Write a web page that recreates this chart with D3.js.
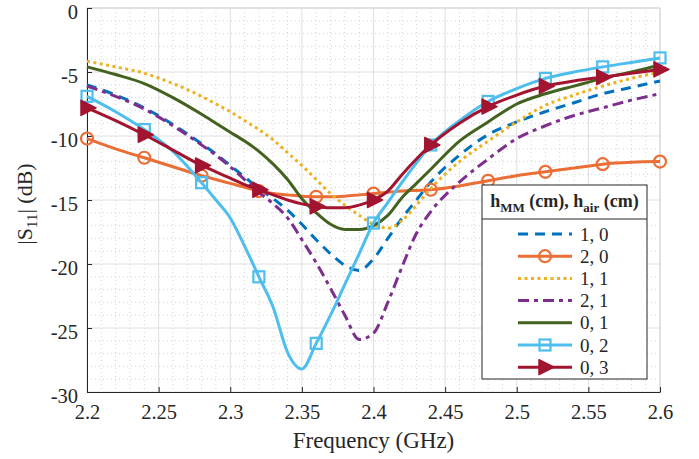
<!DOCTYPE html>
<html>
<head>
<meta charset="utf-8">
<script src="https://cdn.jsdelivr.net/npm/d3@7"></script>
<style>
  html, body { margin: 0; padding: 0; background: #fff; }
  svg { display: block; }
  text { font-family: "Liberation Serif", "DejaVu Serif", serif; fill: #262626; }
</style>
</head>
<body>
<svg id="chart" width="699" height="459"></svg>
<script>
// ---- Data ----
const freq = [2.20, 2.22, 2.24, 2.26, 2.28, 2.29, 2.30, 2.31, 2.32, 2.33, 2.34, 2.35, 2.36, 2.37, 2.38, 2.39, 2.40, 2.41, 2.42, 2.43, 2.44, 2.46, 2.48, 2.50, 2.52, 2.54, 2.56, 2.58, 2.60];

const s_1_0 = [-6.0, -6.8, -7.8, -9.1, -10.6, -11.4, -12.3, -13.2, -14.1, -14.9, -15.8, -16.9, -18.1, -19.2, -20.1, -20.5, -19.6, -18.0, -16.4, -15.0, -13.6, -11.5, -9.9, -8.9, -8.1, -7.4, -6.7, -6.2, -5.7];
const s_2_0 = [-10.2, -11.0, -11.7, -12.4, -13.1, -13.4, -13.7, -14.0, -14.3, -14.5, -14.6, -14.7, -14.75, -14.75, -14.7, -14.6, -14.5, -14.4, -14.3, -14.25, -14.2, -13.9, -13.5, -13.1, -12.8, -12.5, -12.2, -12.05, -12.0];
const s_1_1 = [-4.15, -4.6, -5.1, -5.9, -6.9, -7.5, -8.1, -8.8, -9.5, -10.3, -11.3, -12.3, -13.4, -14.5, -15.4, -16.2, -16.9, -17.2, -16.6, -15.4, -14.1, -12.0, -10.4, -8.9, -7.6, -6.8, -6.1, -5.5, -5.0];
const s_2_1 = [-6.1, -6.9, -7.9, -9.2, -10.7, -11.5, -12.4, -13.4, -14.4, -15.3, -16.4, -18.1, -19.9, -21.9, -24.0, -25.9, -25.4, -23.0, -20.2, -17.6, -15.9, -13.6, -11.8, -10.2, -9.2, -8.4, -7.8, -7.2, -6.7];
const s_0_1 = [-4.6, -5.2, -5.9, -7.0, -8.3, -9.0, -9.7, -10.4, -11.2, -12.2, -13.4, -14.9, -16.0, -16.9, -17.3, -17.3, -17.0, -16.2, -14.8, -13.7, -12.6, -10.4, -8.9, -7.5, -6.7, -6.1, -5.5, -5.0, -4.45];
const s_0_2 = [-6.9, -8.1, -9.5, -11.2, -13.65, -15.0, -16.4, -18.6, -21.0, -23.4, -26.9, -28.2, -26.2, -24.0, -21.6, -19.2, -16.8, -15.2, -13.6, -12.1, -10.7, -8.8, -7.3, -6.3, -5.5, -5.0, -4.6, -4.25, -3.9];
const s_0_3 = [-7.8, -8.8, -9.9, -11.1, -12.3, -12.8, -13.3, -13.8, -14.2, -14.6, -15.0, -15.3, -15.5, -15.6, -15.6, -15.4, -15.0, -14.3, -13.0, -11.8, -10.7, -9.0, -7.7, -6.8, -6.1, -5.7, -5.4, -5.1, -4.8];

const markerFreqs = [2.20, 2.24, 2.28, 2.32, 2.36, 2.40, 2.44, 2.48, 2.52, 2.56, 2.60];
const xTicks = [2.2, 2.25, 2.3, 2.35, 2.4, 2.45, 2.5, 2.55, 2.6];
const yTicks = [0, -5, -10, -15, -20, -25, -30];
const seriesLabels = ["1, 0", "2, 0", "1, 1", "2, 1", "0, 1", "0, 2", "0, 3"];

// ---- Styles ----
const seriesStyle = [
  { values: s_1_0, color: "#0072BD", dash: "10,7", marker: null },
  { values: s_2_0, color: "#EA6E35", dash: null, marker: "circle" },
  { values: s_1_1, color: "#EDB120", dash: "3,3.5", marker: null },
  { values: s_2_1, color: "#7E2F8E", dash: "11,5,4,5", marker: null },
  { values: s_0_1, color: "#44621F", dash: null, marker: null },
  { values: s_0_2, color: "#4DBEEE", dash: null, marker: "square" },
  { values: s_0_3, color: "#A2142F", dash: null, marker: "triangle" }
];

(function () {
const svg = d3.select("#chart");
const pL = 87, pR = 660, pT = 8, pB = 392;

const x = d3.scaleLinear().domain([2.2, 2.6]).range([pL, pR]);
const y = d3.scaleLinear().domain([-30, 0]).range([pB, pT]);

// Minor grid
const g = svg.append("g");
const xMinor = d3.range(0, 41).map(i => +(2.2 + i * 0.01).toFixed(2)).filter(v => !xTicks.some(t => Math.abs(t - v) < 1e-6));
const yMinor = d3.range(-30, 1, 1).filter(v => v % 5 !== 0);
g.selectAll(".xminor").data(xMinor).enter().append("line")
  .attr("x1", d => x(d)).attr("x2", d => x(d)).attr("y1", pT).attr("y2", pB)
  .attr("stroke", "#c8c8c8").attr("stroke-width", 0.8).attr("stroke-dasharray", "1,3");
g.selectAll(".yminor").data(yMinor).enter().append("line")
  .attr("x1", pL).attr("x2", pR).attr("y1", d => y(d)).attr("y2", d => y(d))
  .attr("stroke", "#c8c8c8").attr("stroke-width", 0.8).attr("stroke-dasharray", "1,3");
// Major grid
g.selectAll(".xmajor").data(xTicks).enter().append("line")
  .attr("x1", d => x(d)).attr("x2", d => x(d)).attr("y1", pT).attr("y2", pB)
  .attr("stroke", "#dedede").attr("stroke-width", 1);
g.selectAll(".ymajor").data(yTicks).enter().append("line")
  .attr("x1", pL).attr("x2", pR).attr("y1", d => y(d)).attr("y2", d => y(d))
  .attr("stroke", "#dedede").attr("stroke-width", 1);

// Box top/right light
svg.append("line").attr("x1", pL).attr("x2", pR).attr("y1", pT).attr("y2", pT).attr("stroke", "#d4d4d4");
svg.append("line").attr("x1", pR).attr("x2", pR).attr("y1", pT).attr("y2", pB).attr("stroke", "#d4d4d4");

// Axes
const xAxis = d3.axisBottom(x).tickValues(xTicks).tickSizeInner(-5).tickSizeOuter(0).tickPadding(10)
  .tickFormat(d => String(+d.toFixed(2)));
const yAxis = d3.axisLeft(y).tickValues(yTicks).tickSizeInner(-5).tickSizeOuter(0).tickPadding(9)
  .tickFormat(d => String(d));
const gx = svg.append("g").attr("transform", `translate(0,${pB})`).call(xAxis);
const gy = svg.append("g").attr("transform", `translate(${pL},0)`).call(yAxis);
[gx, gy].forEach(a => {
  a.select(".domain").attr("stroke", "#262626").attr("stroke-width", 1);
  a.selectAll(".tick line").attr("stroke", "#262626");
  a.selectAll(".tick text").attr("font-family", "Liberation Serif").attr("font-size", 20.5).attr("fill", "#262626");
});
gx.selectAll(".tick text").attr("dy", "0.85em");
gy.selectAll(".tick text").attr("dy", "0.53em");

// Axis labels
svg.append("text").attr("x", (pL + pR) / 2).attr("y", 448).attr("text-anchor", "middle")
  .attr("font-size", 23).text("Frequency (GHz)");
const yl = svg.append("text").attr("transform", `translate(32,${(pT + pB) / 2 + 4}) rotate(-90)`)
  .attr("text-anchor", "middle").attr("font-size", 22);
yl.append("tspan").text("|S");
yl.append("tspan").attr("font-size", 15).attr("dy", 5).text("11");
yl.append("tspan").attr("dy", -5).text("| (dB)");

// Lines
const line = d3.line().x(d => x(d[0])).y(d => y(d[1])).curve(d3.curveMonotoneX);
const plot = svg.append("g");

function drawMarker(sel, type, color, cx, cy) {
  if (type === "circle") {
    sel.append("circle").attr("cx", cx).attr("cy", cy).attr("r", 6)
      .attr("fill", "none").attr("stroke", color).attr("stroke-width", 2.2);
  } else if (type === "square") {
    sel.append("rect").attr("x", cx - 5.5).attr("y", cy - 5.5).attr("width", 11).attr("height", 11)
      .attr("fill", "none").attr("stroke", color).attr("stroke-width", 2.2);
  } else if (type === "triangle") {
    sel.append("path").attr("d", `M${cx - 6},${cy - 7.5}L${cx + 9},${cy}L${cx - 6},${cy + 7.5}Z`)
      .attr("fill", color).attr("stroke", color).attr("stroke-width", 1.5).attr("stroke-linejoin", "round");
  }
}

seriesStyle.forEach(s => {
  const pts = freq.map((f, i) => [f, s.values[i]]);
  const p = plot.append("path").datum(pts).attr("d", line)
    .attr("fill", "none").attr("stroke", s.color).attr("stroke-width", 3)
    .attr("stroke-linejoin", "round");
  if (s.dash) p.attr("stroke-dasharray", s.dash);
  if (s.marker) {
    const mg = plot.append("g");
    markerFreqs.forEach(f => {
      const i = freq.findIndex(v => Math.abs(v - f) < 1e-6);
      drawMarker(mg, s.marker, s.color, x(f), y(s.values[i]));
    });
  }
});

// Legend
const lg = svg.append("g");
const lx = 482, ly = 185, lw = 165, lh = 194;
lg.append("rect").attr("x", lx).attr("y", ly).attr("width", lw).attr("height", lh)
  .attr("fill", "#fff").attr("stroke", "#262626").attr("stroke-width", 1);
lg.append("line").attr("x1", lx).attr("x2", lx + lw).attr("y1", ly + 34).attr("y2", ly + 34)
  .attr("stroke", "#262626").attr("stroke-width", 1);
const title = lg.append("text").attr("x", lx + lw / 2).attr("y", ly + 22).attr("text-anchor", "middle")
  .attr("font-size", 18).attr("font-weight", "bold");
title.append("tspan").text("h");
title.append("tspan").attr("font-size", 13).attr("dy", 5).text("MM");
title.append("tspan").attr("dy", -5).text(" (cm), h");
title.append("tspan").attr("font-size", 13).attr("dy", 5).text("air");
title.append("tspan").attr("dy", -5).text(" (cm)");

seriesStyle.forEach((s, i) => {
  const yy = ly + 49 + i * 22.2;
  const l = lg.append("line").attr("x1", 518).attr("x2", 572).attr("y1", yy).attr("y2", yy)
    .attr("stroke", s.color).attr("stroke-width", 3);
  if (s.dash) l.attr("stroke-dasharray", s.dash);
  if (s.marker) drawMarker(lg, s.marker, s.color, 545, yy);
  lg.append("text").attr("x", 580).attr("y", yy).attr("dy", "0.35em").attr("font-size", 19).text(seriesLabels[i]);
});
})();
</script>
</body>
</html>
